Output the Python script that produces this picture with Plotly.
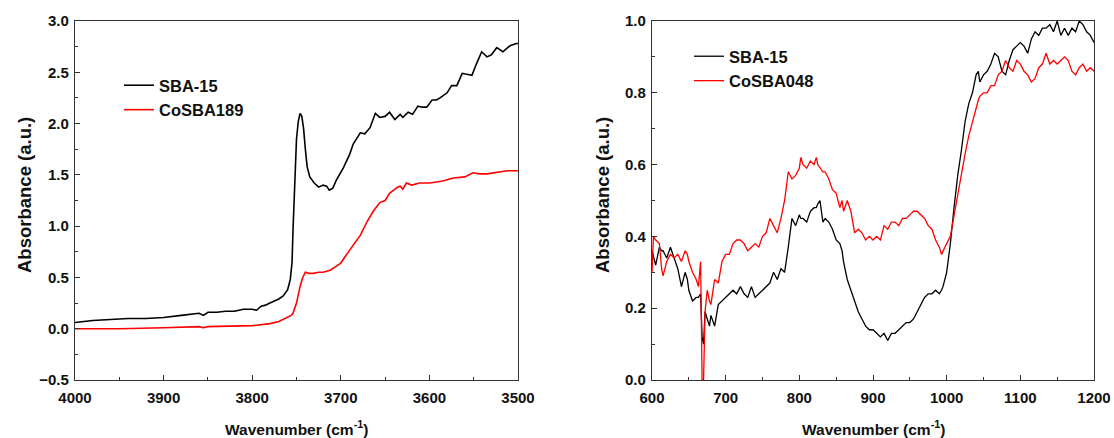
import plotly.graph_objects as go

# ---------------- Left panel data (OH region) ----------------
left_x_sba = [4000, 3980, 3960, 3940, 3920, 3900, 3880, 3860, 3855, 3850, 3840, 3830, 3820, 3810,
              3800, 3795, 3790, 3785, 3780, 3775, 3770, 3765, 3760, 3757, 3755, 3754, 3752, 3750,
              3748, 3746, 3744, 3742, 3740, 3738, 3735, 3730, 3725, 3720, 3716, 3713, 3709, 3705,
              3697, 3690, 3686, 3678, 3673, 3667, 3661, 3656, 3650, 3645, 3639, 3633, 3630, 3624,
              3619, 3613, 3608, 3603, 3597, 3592, 3588, 3580, 3575, 3569, 3563, 3558, 3552, 3547,
              3541, 3535, 3530, 3524, 3517, 3513, 3509, 3502, 3500]
left_y_sba = [0.06, 0.08, 0.09, 0.10, 0.10, 0.11, 0.13, 0.15, 0.13, 0.16, 0.16, 0.17, 0.17, 0.19,
              0.19, 0.18, 0.22, 0.23, 0.25, 0.27, 0.29, 0.32, 0.38, 0.48, 0.65, 0.95, 1.45, 1.85,
              2.02, 2.10, 2.07, 1.95, 1.75, 1.58, 1.48, 1.42, 1.38, 1.40, 1.39, 1.35, 1.37, 1.45,
              1.57, 1.70, 1.80, 1.91, 1.90, 1.96, 2.10, 2.06, 2.07, 2.11, 2.04, 2.09, 2.06, 2.11,
              2.09, 2.17, 2.16, 2.16, 2.23, 2.23, 2.25, 2.30, 2.37, 2.37, 2.49, 2.48, 2.47, 2.58,
              2.70, 2.65, 2.67, 2.74, 2.70, 2.73, 2.76, 2.78, 2.78]

left_x_co = [4000, 3950, 3900, 3860, 3855, 3850, 3800, 3780, 3770, 3760, 3756, 3754, 3750, 3746,
             3743, 3740, 3736, 3731, 3725, 3720, 3712, 3705, 3700, 3693, 3686, 3678, 3670, 3663,
             3656, 3650, 3645, 3641, 3636, 3633, 3630, 3626, 3620, 3611, 3600, 3592, 3585, 3573,
             3560, 3551, 3543, 3535, 3528, 3520, 3512, 3500]
left_y_co = [0.00, 0.00, 0.01, 0.02, 0.01, 0.02, 0.03, 0.05, 0.07, 0.11, 0.13, 0.15, 0.25, 0.41,
             0.50, 0.55, 0.54, 0.54, 0.55, 0.55, 0.57, 0.61, 0.64, 0.73, 0.81, 0.91, 1.05, 1.15,
             1.23, 1.25, 1.32, 1.35, 1.38, 1.39, 1.36, 1.42, 1.40, 1.42, 1.42, 1.43, 1.44, 1.47,
             1.48, 1.52, 1.51, 1.51, 1.52, 1.53, 1.54, 1.54]

# ---------------- Right panel data (framework region) ----------------
right_x = [600, 602, 605, 610, 613, 615, 620, 625, 630, 635, 640, 645, 648, 650, 655, 660, 663,
           666, 668, 670, 672, 675, 678, 680, 685, 690, 695, 700, 705, 710, 715, 720, 725, 730,
           735, 740, 745, 750, 755, 760, 765, 770, 775, 780, 785, 790, 795, 800, 802, 805, 810,
           815, 820, 823, 825, 828, 832, 835, 840, 845, 850, 855, 858, 860, 865, 870, 875, 880,
           885, 890, 895, 900, 905, 910, 915, 920, 925, 930, 935, 940, 945, 950, 955, 960, 965,
           970, 975, 980, 985, 990, 993, 995, 1000, 1005, 1010, 1015, 1020, 1025, 1030, 1035,
           1040, 1043, 1045, 1050, 1055, 1060, 1065, 1070, 1075, 1080, 1085, 1090, 1095, 1100,
           1105, 1110, 1115, 1120, 1125, 1130, 1135, 1140, 1145, 1150, 1155, 1160, 1165, 1170,
           1175, 1180, 1185, 1190, 1195, 1200]
right_y_sba = [0.36, 0.34, 0.32, 0.37, 0.36, 0.36, 0.34, 0.37, 0.34, 0.31, 0.26, 0.30, 0.28,
               0.25, 0.22, 0.23, 0.23, 0.24, 0.12, 0.10, 0.19, 0.17, 0.15, 0.18, 0.15, 0.21,
               0.22, 0.23, 0.24, 0.25, 0.24, 0.26, 0.24, 0.23, 0.26, 0.23, 0.24, 0.25, 0.26,
               0.27, 0.30, 0.28, 0.31, 0.30, 0.37, 0.45, 0.43, 0.46, 0.45, 0.45, 0.44, 0.47,
               0.48, 0.48, 0.49, 0.50, 0.44, 0.45, 0.44, 0.42, 0.39, 0.38, 0.36, 0.33, 0.28,
               0.25, 0.22, 0.19, 0.17, 0.15, 0.14, 0.14, 0.13, 0.12, 0.13, 0.11, 0.13, 0.13,
               0.14, 0.15, 0.16, 0.16, 0.17, 0.19, 0.21, 0.23, 0.24, 0.24, 0.25, 0.24, 0.25,
               0.26, 0.30, 0.38, 0.48, 0.57, 0.64, 0.72, 0.77, 0.80, 0.85, 0.86, 0.83, 0.85,
               0.86, 0.88, 0.91, 0.90, 0.86, 0.85, 0.89, 0.92, 0.93, 0.94, 0.93, 0.91, 0.95,
               0.97, 0.96, 0.98, 0.98, 0.99, 0.97, 1.00, 0.96, 0.98, 0.96, 0.98, 0.97, 1.00,
               0.99, 0.97, 0.96, 0.94]
right_y_co = [0.30, 0.40, 0.39, 0.38, 0.31, 0.29, 0.33, 0.35, 0.34, 0.35, 0.33, 0.36, 0.35,
              0.33, 0.30, 0.28, 0.26, 0.33, 0.00, 0.00, 0.19, 0.25, 0.22, 0.21, 0.28, 0.27,
              0.33, 0.35, 0.35, 0.38, 0.39, 0.39, 0.38, 0.36, 0.37, 0.38, 0.37, 0.40, 0.41,
              0.45, 0.43, 0.41, 0.45, 0.50, 0.58, 0.56, 0.57, 0.59, 0.62, 0.60, 0.59, 0.61,
              0.60, 0.62, 0.60, 0.59, 0.58, 0.58, 0.56, 0.53, 0.52, 0.48, 0.50, 0.47, 0.50,
              0.47, 0.41, 0.42, 0.41, 0.39, 0.40, 0.39, 0.40, 0.39, 0.43, 0.42, 0.44, 0.44,
              0.43, 0.45, 0.45, 0.46, 0.47, 0.47, 0.46, 0.45, 0.43, 0.42, 0.39, 0.37, 0.35,
              0.36, 0.38, 0.40, 0.46, 0.52, 0.58, 0.63, 0.68, 0.72, 0.76, 0.78, 0.79, 0.80,
              0.80, 0.82, 0.82, 0.85, 0.86, 0.89, 0.87, 0.86, 0.89, 0.88, 0.86, 0.85, 0.83,
              0.84, 0.87, 0.88, 0.91, 0.88, 0.89, 0.88, 0.89, 0.90, 0.89, 0.86, 0.85, 0.87,
              0.88, 0.86, 0.87, 0.86]

left_names = ["SBA-15", "CoSBA189"]
right_names = ["SBA-15", "CoSBA048"]
x_title = "Wavenumber (cm<sup>-1</sup>)"
y_title = "Absorbance (a.u.)"

FONT = "Liberation Sans, Arial, sans-serif"
W, H = 1114, 438

fig = go.Figure()
fig.add_trace(go.Scatter(x=left_x_sba, y=left_y_sba, mode="lines", name=left_names[0],
                         line=dict(color="#000000", width=1.6), xaxis="x", yaxis="y",
                         legend="legend", legendgroup="L"))
fig.add_trace(go.Scatter(x=left_x_co, y=left_y_co, mode="lines", name=left_names[1],
                         line=dict(color="#ff0000", width=1.6), xaxis="x", yaxis="y",
                         legend="legend", legendgroup="L"))
fig.add_trace(go.Scatter(x=right_x, y=right_y_sba, mode="lines", name=right_names[0],
                         line=dict(color="#000000", width=1.3), xaxis="x2", yaxis="y2",
                         legend="legend2", legendgroup="R"))
fig.add_trace(go.Scatter(x=right_x, y=right_y_co, mode="lines", name=right_names[1],
                         line=dict(color="#ff0000", width=1.3), xaxis="x2", yaxis="y2",
                         legend="legend2", legendgroup="R"))

tickfont = dict(family=FONT, size=15, color="#111111", weight="bold")
common = dict(showline=True, linecolor="#333333", linewidth=1.3, mirror=True,
              ticks="inside", ticklen=5, tickwidth=1, tickcolor="#333333",
              showgrid=False, zeroline=False, tickfont=tickfont, automargin=False)

legend_font = dict(family=FONT, size=16.5, color="#111111", weight="bold")

fig.update_layout(
    width=W, height=H,
    margin=dict(l=75, r=20, t=21, b=58),
    paper_bgcolor="white", plot_bgcolor="white",
    xaxis=dict(domain=[0, 443 / 1019], range=[4000, 3500], dtick=100, anchor="y",
               minor=dict(ticks="inside", ticklen=3, dtick=50, tickcolor="#333333"),
               ticklabelstandoff=4, **common),
    yaxis=dict(domain=[0, 1], range=[-0.5, 3.0], dtick=0.5, tickformat=".1f", anchor="x",
               minor=dict(ticks="inside", ticklen=3, dtick=0.25, tickcolor="#333333"),
               ticklabelstandoff=2, **common),
    xaxis2=dict(domain=[577 / 1019, 1.0], range=[600, 1200], dtick=100, anchor="y2",
                minor=dict(ticks="inside", ticklen=3, dtick=50, tickcolor="#333333"),
                ticklabelstandoff=4, **common),
    yaxis2=dict(domain=[0, 1], range=[0, 1.0], dtick=0.2, tickformat=".1f", anchor="x2",
                minor=dict(ticks="inside", ticklen=3, dtick=0.1, tickcolor="#333333"),
                ticklabelstandoff=2, **common),
    legend=dict(x=(119 - 75) / 1019, y=1 - (68 - 21) / 359, xanchor="left", yanchor="top",
                bgcolor="rgba(0,0,0,0)", font=legend_font, tracegroupgap=0),
    legend2=dict(x=(689 - 75) / 1019, y=1 - (39 - 21) / 359, xanchor="left", yanchor="top",
                 bgcolor="rgba(0,0,0,0)", font=legend_font, tracegroupgap=0),
    showlegend=True,
)

xt_font = dict(family=FONT, size=15.5, color="#111111", weight="bold")
yt_font = dict(family=FONT, size=18.5, color="#111111", weight="bold")
fig.add_annotation(text=x_title, xref="paper", yref="paper", x=(296 - 75) / 1019,
                   y=-(428 - 380) / 359, xanchor="center", yanchor="middle", showarrow=False,
                   font=xt_font)
fig.add_annotation(text=x_title, xref="paper", yref="paper", x=(873 - 75) / 1019,
                   y=-(428 - 380) / 359, xanchor="center", yanchor="middle", showarrow=False,
                   font=xt_font)
fig.add_annotation(text=y_title, xref="paper", yref="paper", x=(24 - 75) / 1019,
                   y=(380 - 195) / 359, xanchor="center", yanchor="middle", showarrow=False,
                   textangle=-90, font=yt_font)
fig.add_annotation(text=y_title, xref="paper", yref="paper", x=(602 - 75) / 1019,
                   y=(380 - 195) / 359, xanchor="center", yanchor="middle", showarrow=False,
                   textangle=-90, font=yt_font)

fig.write_html("out.html")
